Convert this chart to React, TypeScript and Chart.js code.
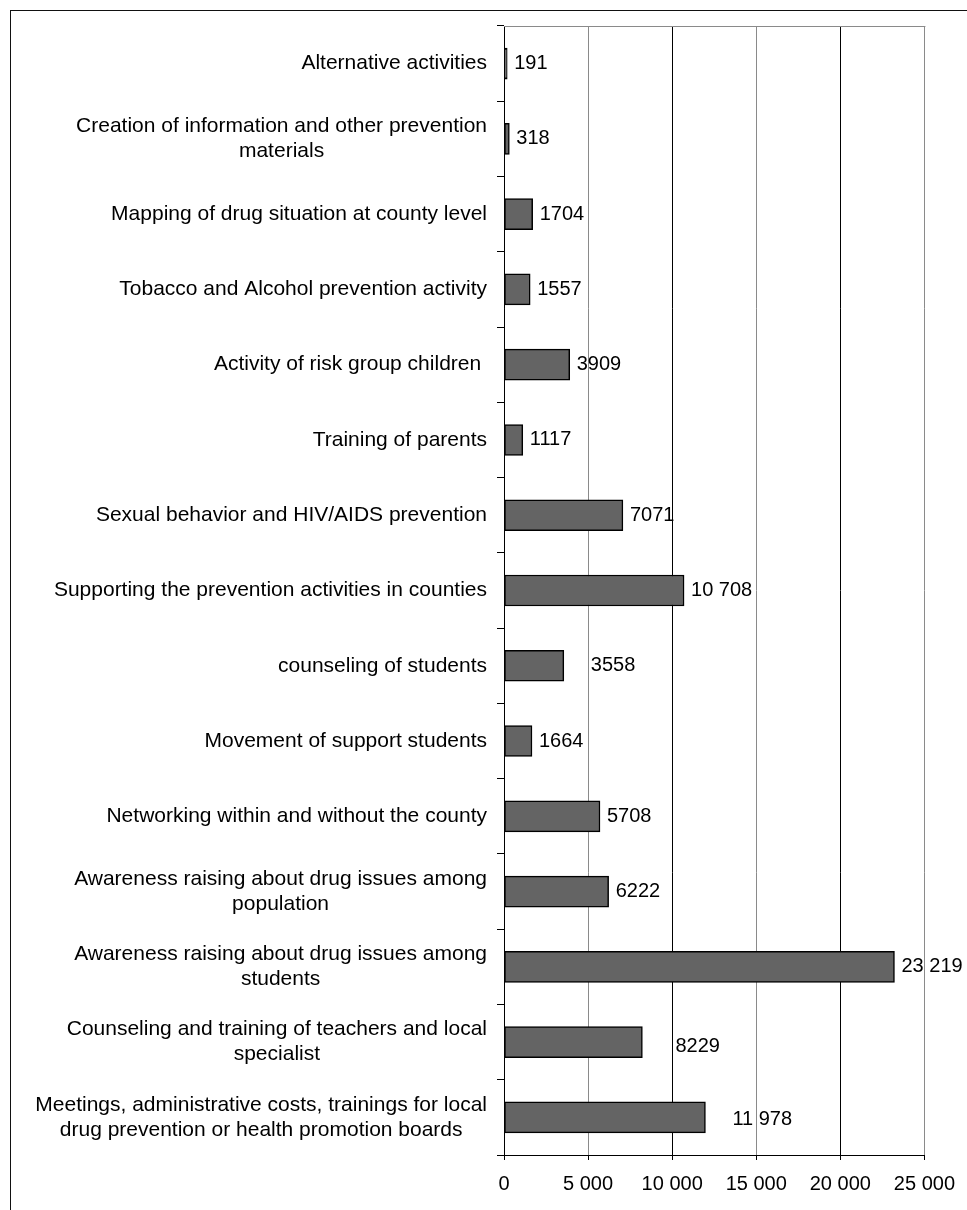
import React, { useEffect, useRef } from 'react';
import { Chart, registerables } from 'chart.js';

Chart.register(...registerables);

const FONT = '"Liberation Sans", Arial, Helvetica, sans-serif';

// Category labels (one entry per line of the label)
const categories: string[][] = [
  ['Alternative activities'],
  ['Creation of information and other prevention', 'materials'],
  ['Mapping of drug situation at county level'],
  ['Tobacco and Alcohol prevention activity'],
  ['Activity of risk group children '],
  ['Training of parents'],
  ['Sexual behavior and HIV/AIDS prevention'],
  ['Supporting the prevention activities in counties'],
  ['counseling of students'],
  ['Movement of support students'],
  ['Networking within and without the county'],
  ['Awareness raising about drug issues among', 'population'],
  ['Awareness raising about drug issues among', 'students'],
  ['Counseling and training of teachers and local', 'specialist'],
  ['Meetings, administrative costs, trainings for local', 'drug prevention or health promotion boards'],
];

const values: number[] = [191, 318, 1704, 1557, 3909, 1117, 7071, 10708, 3558, 1664, 5708, 6222, 23219, 8229, 11978];

const xTicks: number[] = [0, 5000, 10000, 15000, 20000, 25000];

// label nudges (style only): index -> [extra dx, dy]
const labelNudges: Record<number, [number, number]> = {
  8: [20, 0],
  13: [26, 4],
  14: [20, 2],
};

const spaced = (v: number) => String(v).replace(/\B(?=(\d{3})+(?!\d))/g, ' ');
const fmtValue = (v: number) => (v >= 10000 ? spaced(v) : String(v));

const annotationsPlugin = {
  id: 'annotations',
  afterDraw(chart: any) {
    const { ctx, chartArea, scales } = chart;
    const y = scales.y;
    ctx.save();
    // top border of plot area
    ctx.strokeStyle = '#8a8a8a';
    ctx.lineWidth = 1;
    ctx.beginPath();
    ctx.moveTo(chartArea.left, Math.round(chartArea.top) + 0.5);
    ctx.lineTo(chartArea.right + 1, Math.round(chartArea.top) + 0.5);
    ctx.stroke();

    // category labels: block right-aligned, lines centered
    ctx.fillStyle = '#000';
    ctx.font = `21px ${FONT}`;
    ctx.textBaseline = 'middle';
    ctx.textAlign = 'center';
    const right = y.right - 7 - 10;
    categories.forEach((lines, i) => {
      const cy = y.getPixelForValue(i);
      const w = Math.max(...lines.map((l) => ctx.measureText(l).width));
      const cx = right - w / 2;
      lines.forEach((l, k) => {
        ctx.fillText(l, cx, cy + (k - (lines.length - 1) / 2) * 25);
      });
    });

    // value labels
    const meta = chart.getDatasetMeta(0);
    ctx.font = `20px ${FONT}`;
    ctx.textAlign = 'left';
    meta.data.forEach((bar: any, i: number) => {
      const [dx, dy] = labelNudges[i] ?? [0, 0];
      ctx.fillText(fmtValue(values[i]), bar.x + 7 + dx, bar.y + dy);
    });
    ctx.restore();
  },
};

export default function App() {
  const canvasRef = useRef<HTMLCanvasElement | null>(null);

  useEffect(() => {
    document.body.style.margin = '0';
    document.body.style.overflow = 'hidden';
    const canvas = canvasRef.current;
    if (!canvas) return;
    const chart = new Chart(canvas, {
      type: 'bar',
      data: {
        labels: categories.map((c) => c.join(' ')),
        datasets: [
          {
            data: values,
            backgroundColor: '#646464',
            borderColor: '#000',
            borderWidth: 1.5,
            borderSkipped: false,
            barThickness: 31,
          },
        ],
      },
      options: {
        indexAxis: 'y',
        responsive: false,
        animation: false,
        devicePixelRatio: 1,
        layout: { padding: { top: 26, right: 40, bottom: 0, left: 0 } },
        plugins: {
          legend: { display: false },
          tooltip: { enabled: false },
          title: { display: false },
        },
        scales: {
          x: {
            type: 'linear',
            position: 'bottom',
            min: 0,
            max: 25000,
            afterBuildTicks: (s: any) => {
              s.ticks = xTicks.map((v) => ({ value: v }));
            },
            afterFit: (s: any) => {
              s.height = 55;
            },
            ticks: {
              color: '#000',
              font: { family: FONT, size: 20 },
              padding: 12,
              maxRotation: 0,
              autoSkip: false,
              callback: (v: any) => spaced(Number(v)),
            },
            grid: {
              color: (c: any) => {
                const v = c.tick ? c.tick.value : 0;
                return v === 0 || v === 10000 || v === 20000 ? '#000' : '#8a8a8a';
              },
              lineWidth: 1,
              tickLength: 5,
              tickColor: '#000',
              drawTicks: true,
            },
            border: { display: true, color: '#000', width: 1 },
          },
          y: {
            type: 'category',
            afterFit: (s: any) => {
              s.width = 504;
            },
            ticks: {
              color: 'rgba(0,0,0,0)',
              autoSkip: false,
              padding: 10,
              font: { family: FONT, size: 21 },
            },
            grid: {
              drawOnChartArea: false,
              offset: true,
              tickLength: 7,
              color: '#000',
              tickColor: '#000',
            },
            border: { display: true, color: '#000', width: 1 },
          },
        },
      },
      plugins: [annotationsPlugin],
    } as any);
    return () => chart.destroy();
  }, []);

  return (
    <div style={{ position: 'relative', width: 967, height: 1210, overflow: 'hidden', background: '#fff' }}>
      <canvas ref={canvasRef} width={967} height={1210} style={{ display: 'block', width: 967, height: 1210 }} />
      <div
        style={{
          position: 'absolute',
          left: 10,
          top: 10,
          width: 1100,
          height: 1400,
          border: '1px solid #111',
          pointerEvents: 'none',
        }}
      />
    </div>
  );
}
